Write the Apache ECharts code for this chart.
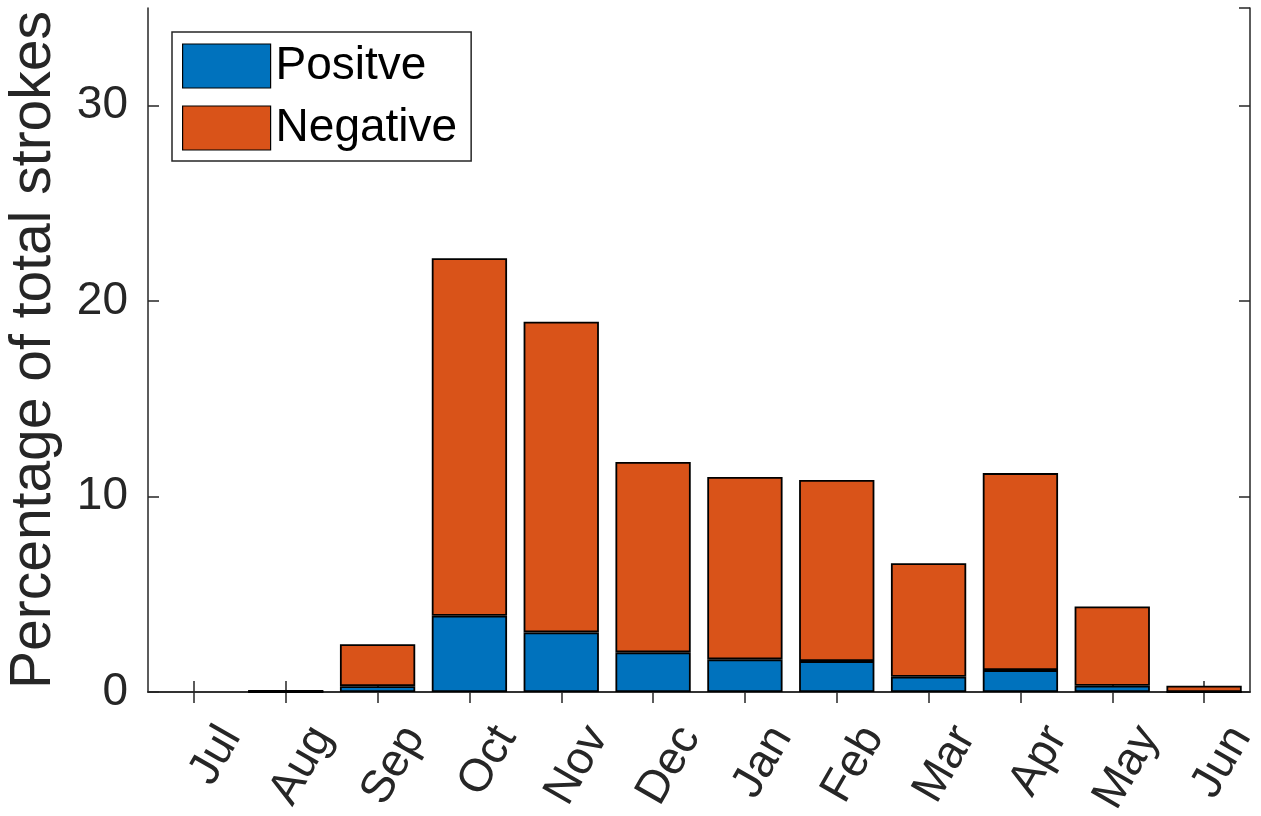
<!DOCTYPE html>
<html>
<head>
<meta charset="utf-8">
<script src="https://cdn.jsdelivr.net/npm/echarts@6/dist/echarts.min.js"></script>
<style>
  html, body { margin: 0; padding: 0; background: #fff; }
  #chart { width: 1261px; height: 816px; }
</style>
</head>
<body>
<div id="chart"></div>
<script>
// Monthly share of strokes, split by polarity (percent of total)
const months = ['Jul', 'Aug', 'Sep', 'Oct', 'Nov', 'Dec', 'Jan', 'Feb', 'Mar', 'Apr', 'May', 'Jun'];
const positive = [null, 0, 0.3, 3.9, 3.05, 2.03, 1.67, 1.58, 0.78, 1.12, 0.32, 0];
const negative = [null, 0.1, 2.14, 18.3, 15.9, 9.74, 9.33, 9.27, 5.81, 10.08, 4.06, 0.32];
const seriesNames = ['Positve', 'Negative'];
const yTicks = { min: 0, max: 35, step: 10 };

const FONT = '"Liberation Sans", Arial, Helvetica, sans-serif';
const AXIS_COLOR = '#262626';

const chart = echarts.init(document.getElementById('chart'), null, { renderer: 'canvas' });

const tickStyle = { show: true, inside: true, length: 11, lineStyle: { color: AXIS_COLOR, width: 1.5 } };
const lineStyle = { show: true, lineStyle: { color: AXIS_COLOR, width: 1.5 } };

chart.setOption({
  animation: false,
  backgroundColor: '#ffffff',
  color: ['#0072BD', '#D95319'],
  grid: { left: 148, right: 11, top: 8, bottom: 124, containLabel: false, outerBoundsMode: 'none' },
  legend: {
    orient: 'vertical',
    left: 172,
    top: 32,
    padding: [11, 14, 10, 10],
    itemWidth: 88,
    itemHeight: 44,
    itemGap: 16,
    icon: 'rect',
    backgroundColor: '#ffffff',
    borderColor: AXIS_COLOR,
    borderWidth: 1.5,
    borderRadius: 0,
    itemStyle: { borderColor: '#000', borderWidth: 1.2 },
    textStyle: { fontFamily: FONT, fontSize: 46, color: '#000' },
    data: seriesNames
  },
  xAxis: [
    {
      type: 'category',
      data: months,
      position: 'bottom',
      boundaryGap: true,
      axisLine: lineStyle,
      axisTick: Object.assign({ alignWithLabel: true }, tickStyle),
      axisLabel: {
        interval: 0,
        rotate: 60,
        margin: 17,
        verticalAlign: 'top',
        lineHeight: 84,
        fontFamily: FONT,
        fontSize: 46,
        color: AXIS_COLOR
      },
      splitLine: { show: false }
    },
    {
      type: 'category',
      data: months,
      position: 'top',
      boundaryGap: true,
      axisLine: lineStyle,
      axisTick: Object.assign({ alignWithLabel: true }, tickStyle),
      axisLabel: { show: false },
      splitLine: { show: false }
    }
  ],
  yAxis: [
    {
      type: 'value',
      min: yTicks.min,
      max: yTicks.max,
      interval: yTicks.step,
      position: 'left',
      name: 'Percentage of total strokes',
      nameLocation: 'middle',
      nameGap: 85,
      nameTextStyle: { fontFamily: FONT, fontSize: 57, color: AXIS_COLOR },
      axisLine: lineStyle,
      axisTick: tickStyle,
      axisLabel: { margin: 20, fontFamily: FONT, fontSize: 46, color: AXIS_COLOR, showMaxLabel: false },
      splitLine: { show: false }
    },
    {
      type: 'value',
      min: yTicks.min,
      max: yTicks.max,
      interval: yTicks.step,
      position: 'right',
      axisLine: lineStyle,
      axisTick: tickStyle,
      axisLabel: { show: false },
      splitLine: { show: false }
    }
  ],
  series: [
    {
      name: seriesNames[0],
      type: 'bar',
      stack: 'strokes',
      barCategoryGap: '18%',
      data: positive,
      itemStyle: { borderColor: '#000', borderWidth: 1.8 }
    },
    {
      name: seriesNames[1],
      type: 'bar',
      stack: 'strokes',
      barCategoryGap: '18%',
      data: negative,
      itemStyle: { borderColor: '#000', borderWidth: 1.8 }
    }
  ]
});
</script>
</body>
</html>
